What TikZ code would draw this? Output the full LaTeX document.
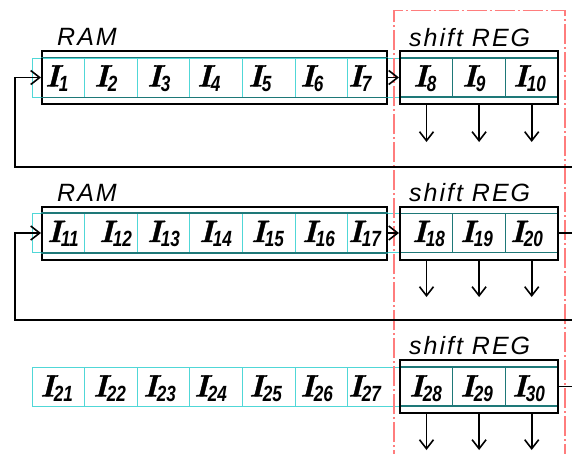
\documentclass[tikz,border=0pt]{standalone}
\usepackage{fontspec}
\newfontfamily\subfont{Liberation Sans}[FakeStretch=0.78]
\newfontfamily\titlefont{Liberation Sans}[LetterSpace=8]
\newfontfamily\Ifont{lmroman10-bolditalic.otf}[FakeBold=1.3]
\usetikzlibrary{arrows.meta}
\definecolor{cellc}{RGB}{80,215,215}
\definecolor{tealc}{RGB}{30,120,120}
\definecolor{redc}{RGB}{255,125,125}
\newcommand{\Ilab}[1]{{\Ifont\fontsize{31}{31}\selectfont I}\kern-1pt\raisebox{-4.5pt}{\subfont\fontsize{22}{22}\selectfont\itshape\bfseries #1}}
\tikzset{
  cell/.style={draw=cellc, line width=1pt, minimum width=52.6pt, minimum height=39pt, inner sep=0pt, anchor=center},
  shcell/.style={cell, draw=tealc, line width=1.2pt},
  lab/.style={anchor=base west, inner sep=0pt},
  box/.style={draw=black, line width=2pt, inner sep=0pt, minimum height=53pt},
  innerline/.style={draw=tealc, line width=1.2pt},
  wire/.style={draw=black, line width=1.6pt},
  arr/.style={wire, -{Straight Barb[length=9pt,width=14pt,line width=1.6pt]}},
  redline/.style={draw=redc, line width=1.3pt, dash pattern=on 20pt off 3pt on 2pt off 3pt},
  title/.style={anchor=base west, inner sep=0pt, font=\titlefont\itshape\fontsize{25}{25}\selectfont}
}
\begin{document}
\begin{tikzpicture}[x=1pt,y=-1pt]
\useasboundingbox (0,0) rectangle (572,453);
\clip (0,0) rectangle (572,453);
% cells
\foreach \r/\yc in {0/77.5,1/233,2/386.5} {
  \foreach \i in {0,...,9} {
    \pgfmathtruncatemacro\n{10*\r+\i+1}
    \ifnum\i<7
      \node[cell] (c\n) at ({58.3+52.6*\i},\yc) {};
    \else
      \node[shcell] (c\n) at ({58.3+52.6*\i},\yc) {};
    \fi
  }
}
% labels
\foreach \n/\x in {1/45,2/94,3/147,4/197,5/248,6/300,7/348,8/413,9/462,10/513}
  \node[lab] (l\n) at (\x,86.5) {\Ilab{\n}};
\foreach \n/\x in {11/47,12/99,13/147,14/199,15/251,16/302,17/348,18/412,19/460,20/510}
  \node[lab] (l\n) at (\x,242) {\Ilab{\n}};
\foreach \n/\x in {21/40,22/93,23/143,24/194,25/249,26/300,27/348,28/409,29/460,30/512}
  \node[lab] (l\n) at (\x,396.5) {\Ilab{\n}};
% RAM boxes
\node[box, minimum width=345pt] (ram1) at (214.5,77.5) {};
\node[box, minimum width=345pt] (ram2) at (214.5,233) {};
\draw[innerline] (ram1.west |- c1.north) -- (ram1.east |- c1.north);
\draw[innerline] (ram1.west |- c1.south) -- (ram1.east |- c1.south);
\draw[innerline] (ram2.west |- c11.north) -- (ram2.east |- c11.north);
\draw[innerline] (ram2.west |- c11.south) -- (ram2.east |- c11.south);
% shift boxes
\node[box, minimum width=158pt] (sh1) at (479,77.5) {};
\node[box, minimum width=158pt] (sh2) at (479,233) {};
\node[box, minimum width=158pt] (sh3) at (479,386.5) {};
% titles
\node[title] (t1) at (57,45) {RAM};
\node[title] (t2) at (57,201) {RAM};
\node[title] (s1) at (409,46) {shift REG};
\node[title] (s2) at (409,201) {shift REG};
\node[title] (s3) at (409,354) {shift REG};
% red dash-dot frame
\coordinate (rA) at (394,470);
\coordinate (rB) at (394,10.5);
\coordinate (rC) at (565,10.5);
\coordinate (rD) at (565,470);
\draw[redline] (rA) -- (rB) -- (rC) -- (rD);
% RAM -> shift
\draw[arr] (ram1.east) -- (sh1.west);
\draw[arr] (ram2.east) -- (sh2.west);
% feedback loops
\coordinate (fin1) at (572,167);
\coordinate (fc1) at (15,167);
\draw[arr] (fin1) -- (fc1) |- (ram1.west);
\coordinate (fin2) at (572,320);
\coordinate (fc2) at (15,320);
\draw[arr] (fin2) -- (fc2) |- (ram2.west);
% outputs to the right
\coordinate (out2) at (572,233);
\coordinate (out3) at (572,386.5);
\draw[wire] (sh2.east) -- (out2);
\draw[wire] (sh3.east) -- (out3);
% down arrows
\foreach \k/\s/\e in {8/sh1/142,9/sh1/142,10/sh1/142,18/sh2/297,19/sh2/297,20/sh2/297,28/sh3/450,29/sh3/450,30/sh3/450} {
  \coordinate (d\k) at (c\k |- 0,\e);
  \draw[arr] (c\k |- \s.south) -- (d\k);
}
\end{tikzpicture}
\end{document}
